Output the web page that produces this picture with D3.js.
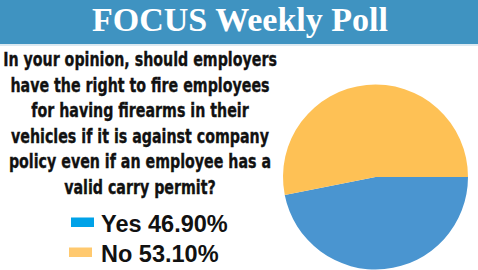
<!DOCTYPE html>
<html>
<head>
<meta charset="utf-8">
<script src="https://cdn.jsdelivr.net/npm/d3@7"></script>
<style>
  html, body { margin: 0; padding: 0; background: #fff; }
  svg { display: block; }
</style>
</head>
<body>
<svg id="chart" width="478" height="270"></svg>
<script>
// Poll data
const title = "FOCUS Weekly Poll";
const questionLines = [
  "In your opinion, should employers",
  "have the right to fire employees",
  "for having firearms in their",
  "vehicles if it is against company",
  "policy even if an employee has a",
  "valid carry permit?"
];
const answers = ["Yes", "No"];
const shares = [46.9, 53.1];
const sliceColors = ["#4a95d0", "#fec155"];
const legendColors = ["#00a2e8", "#ffc96f"];

const W = 478, H = 270;
const svg = d3.select("#chart");

// Header band
svg.append("rect").attr("x", 0).attr("y", 0).attr("width", W).attr("height", 44)
  .attr("fill", "#3f93c1");
svg.append("rect").attr("x", 0).attr("y", 44).attr("width", W).attr("height", 2)
  .attr("fill", "#dbe9f1");
svg.append("text")
  .attr("x", 240).attr("y", 31)
  .attr("text-anchor", "middle")
  .attr("font-family", "'Liberation Serif', 'DejaVu Serif', serif")
  .attr("font-weight", "bold")
  .attr("font-size", 34)
  .attr("fill", "#ffffff")
  .text(title);

// Question, set in a condensed bold face
const qCx = 140, qTop = 66, qStep = 25.6, qTargetWidth = 274;
const qGroup = svg.append("g");
const qTexts = qGroup.selectAll("text").data(questionLines).join("text")
  .attr("y", (d, i) => qTop + i * qStep)
  .attr("text-anchor", "middle")
  .attr("font-family", "'Liberation Sans Narrow', 'DejaVu Sans Condensed', 'Liberation Sans', sans-serif")
  .attr("font-weight", "bold")
  .attr("font-size", 20)
  .attr("fill", "#111")
  .attr("stroke", "#111")
  .attr("stroke-width", 0.35)
  .text(d => d);
// squeeze horizontally so the first line fits the column
const firstLen = qTexts.nodes()[0].getComputedTextLength();
const sx = firstLen > 0 ? qTargetWidth / firstLen : 1;
qTexts.attr("x", qCx / sx).attr("transform", `scale(${sx},1)`);

// Legend
const legendY = d3.scaleOrdinal().domain(answers).range([231.5, 261.5]);
const legend = svg.append("g");
answers.forEach((a, i) => {
  const y = legendY(a);
  legend.append("rect")
    .attr("x", i === 0 ? 71 : 69).attr("y", y - 14)
    .attr("width", 23).attr("height", 9.5)
    .attr("fill", legendColors[i]);
  legend.append("text")
    .attr("x", 101).attr("y", y)
    .attr("font-family", "'Liberation Sans', Arial, sans-serif")
    .attr("font-weight", "bold")
    .attr("font-size", 23.5)
    .attr("fill", "#111")
    .text(`${a} ${shares[i].toFixed(2)}%`);
});

// Pie: "Yes" starts at 3 o'clock and runs clockwise
const pie = d3.pie().sort(null).value(d => d)
  .startAngle(Math.PI / 2).endAngle(Math.PI / 2 + 2 * Math.PI);
const arc = d3.arc().innerRadius(0).outerRadius(92.5);
svg.append("g")
  .attr("transform", "translate(375.5,177)")
  .selectAll("path").data(pie(shares)).join("path")
  .attr("d", arc)
  .attr("fill", (d, i) => sliceColors[i]);
</script>
</body>
</html>
